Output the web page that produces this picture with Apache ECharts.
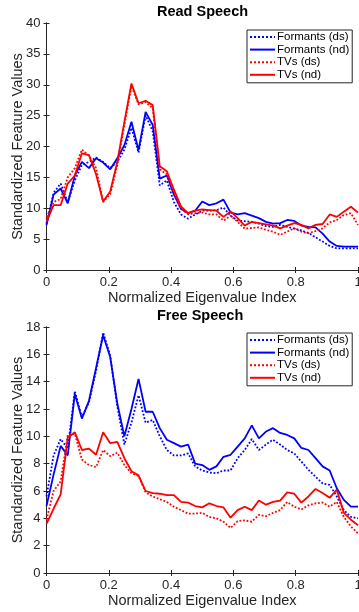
<!DOCTYPE html>
<html>
<head>
<meta charset="utf-8">
<script src="https://cdn.jsdelivr.net/npm/echarts@6/dist/echarts.min.js"></script>
<style>
  html, body { margin: 0; padding: 0; background: #fff; }
  #chart { width: 359px; height: 612px; }
</style>
</head>
<body>
<div id="chart"></div>
<script>
// normalized eigenvalue index, 45 eigenvalues
const nPoints = 45
const seriesNames = ['Formants (ds)', 'Formants (nd)', 'TVs (ds)', 'TVs (nd)']

// Read Speech
const readFormantsDs = [7.5, 12.5, 14, 11, 14.5, 17, 17.5, 18.2, 17.5, 16.5, 17.5, 19.5, 23, 19, 25, 22.5, 13.7, 14.5, 11, 9, 8.3, 9.0, 9.6, 9.6, 9.7, 10.1, 8.8, 8.0, 7.9, 7.8, 7.5, 7.1, 7.0, 7.3, 7.0, 6.7, 6.4, 6.0, 5.3, 4.6, 3.9, 3.5, 3.5, 3.5, 3.5]
const readFormantsNd = [7.3, 12.2, 13.2, 10.8, 15.3, 17.5, 16.5, 18.1, 17.4, 16.3, 18.1, 20.2, 24, 19.4, 25.6, 23.5, 14.8, 15.3, 12.2, 9.9, 9.2, 9.6, 11.1, 10.5, 10.8, 11.4, 9.3, 9.0, 9.2, 8.8, 8.4, 7.8, 7.5, 7.6, 8.1, 7.95, 7.2, 7.0, 6.9, 5.9, 4.6, 3.9, 3.8, 3.8, 3.8]
const readTVsDs = [8.5, 11, 11.5, 15, 16.5, 19.5, 18.5, 16.5, 11, 12.3, 17, 23.5, 29.8, 26.8, 27.2, 26.2, 16.3, 15.5, 12.5, 10, 9.0, 9.2, 9.3, 9.0, 9.0, 8.0, 8.8, 7.8, 6.7, 6.8, 6.9, 6.5, 6.2, 5.7, 6.2, 6.75, 6.2, 5.95, 6.3, 6.75, 7.7, 8.1, 8.9, 9.2, 7.3]
const readTVsNd = [7.8, 10.5, 10.5, 14, 15.3, 18.9, 18.6, 15.5, 11.1, 12.7, 17.5, 24, 30.2, 27, 27.4, 26.7, 16.8, 16, 13, 10.3, 9.2, 9.6, 9.8, 9.7, 9.6, 8.6, 9.5, 8.4, 7.2, 7.8, 7.6, 7.4, 7.2, 6.75, 7.2, 7.6, 7.3, 6.75, 7.3, 7.45, 9.0, 8.6, 9.45, 10.25, 9.3]

// Free Speech
const freeFormantsDs = [5.6, 8.6, 9.8, 9.1, 13.3, 11.4, 12.5, 14.8, 17.6, 15.9, 12.2, 9.4, 11.0, 13.0, 11.0, 11.2, 10.0, 9.0, 8.6, 8.6, 8.75, 7.8, 7.5, 7.35, 7.3, 7.5, 7.5, 8.4, 9.0, 9.8, 9.0, 9.4, 9.75, 9.4, 9.0, 8.75, 8.15, 7.55, 7.05, 6.55, 6.45, 5.6, 4.6, 4.1, 4.0]
const freeFormantsNd = [4.9, 7.2, 9.3, 8.6, 13.1, 11.3, 12.6, 15.0, 17.4, 15.8, 12.4, 10.0, 12.0, 14.2, 11.8, 11.8, 10.6, 9.75, 9.5, 9.25, 9.4, 8.0, 7.9, 7.55, 7.8, 8.5, 8.65, 9.25, 9.85, 10.8, 9.85, 10.35, 10.6, 10.25, 10.1, 9.85, 9.15, 9.0, 8.4, 7.8, 7.5, 6.2, 5.35, 4.85, 4.85]
const freeTVsDs = [3.9, 6.0, 6.7, 10.1, 10.2, 8.3, 7.9, 7.75, 9.0, 8.55, 8.8, 7.9, 7.3, 7.1, 5.9, 5.6, 5.4, 5.2, 4.85, 4.6, 4.35, 4.35, 4.4, 4.1, 4.0, 3.75, 3.3, 3.8, 3.85, 3.75, 4.25, 4.15, 4.4, 4.6, 5.2, 4.85, 4.65, 4.95, 5.1, 5.15, 4.85, 5.2, 4.1, 3.4, 2.9]
const freeTVsNd = [3.6, 4.7, 5.75, 9.9, 10.3, 9.0, 9.1, 8.65, 10.3, 9.5, 9.6, 8.4, 7.45, 7.15, 6.0, 5.85, 5.8, 5.7, 5.7, 5.2, 5.15, 4.9, 4.8, 5.1, 4.9, 4.8, 4.05, 4.6, 4.85, 4.6, 5.3, 5.0, 5.2, 5.3, 5.9, 5.8, 5.15, 5.6, 6.15, 5.85, 5.5, 6.1, 4.4, 3.9, 3.5]

const xIndex = Array.from({ length: nPoints }, (_, i) => i / (nPoints - 1))

const textColor = '#262626'
const fontFamily = 'Liberation Sans, Arial, sans-serif'

const pair = vals => vals.map((v, i) => [xIndex[i], v])

const makeSeries = (gridNo, vals) => {
  const axisNo = gridNo * 2
  const styles = [
    { color: '#0000ff', type: 'dotted' },
    { color: '#0000ff', type: 'solid' },
    { color: '#ff0000', type: 'dotted' },
    { color: '#ff0000', type: 'solid' }
  ]
  return vals.map((v, k) => ({
    name: seriesNames[k],
    type: 'line',
    xAxisIndex: axisNo,
    yAxisIndex: axisNo,
    data: pair(v),
    symbol: 'none',
    silent: true,
    color: styles[k].color,
    lineStyle: { width: 1.8, type: styles[k].type, color: styles[k].color }
  }))
}

const tickStyle = { show: true, inside: true, length: 3, lineStyle: { color: textColor } }
const lineStyle = { show: true, lineStyle: { color: textColor, width: 1 } }

const mainX = (gridIndex) => ({
  gridIndex, type: 'value', min: 0, max: 1, interval: 0.2, position: 'bottom',
  axisLine: lineStyle, axisTick: tickStyle,
  axisLabel: { color: textColor, fontSize: 13, fontFamily, margin: 6 },
  splitLine: { show: false },
  name: 'Normalized Eigenvalue Index', nameLocation: 'middle', nameGap: 20, nameMoveOverlap: false,
  nameTextStyle: { color: textColor, fontSize: 14.5, fontFamily }
})
const topX = (gridIndex) => ({
  gridIndex, type: 'value', min: 0, max: 1, interval: 0.2, position: 'top',
  axisLine: lineStyle, axisTick: tickStyle,
  axisLabel: { show: false }, splitLine: { show: false }
})
const mainY = (gridIndex, max, interval) => ({
  gridIndex, type: 'value', min: 0, max, interval, position: 'left',
  axisLine: lineStyle, axisTick: tickStyle,
  axisLabel: { color: textColor, fontSize: 13, fontFamily, margin: 6 },
  splitLine: { show: false },
  name: 'Standardized Feature Values', nameLocation: 'middle', nameGap: 21, nameMoveOverlap: false,
  nameTextStyle: { color: textColor, fontSize: 14.5, fontFamily }
})
const rightY = (gridIndex, max, interval) => ({
  gridIndex, type: 'value', min: 0, max, interval, position: 'right',
  axisLine: lineStyle, axisTick: tickStyle,
  axisLabel: { show: false }, splitLine: { show: false }
})

const makeLegend = top => ({
  orient: 'vertical', left: 247, top,
  data: seriesNames,
  itemWidth: 25, itemHeight: 12, itemGap: 0.6,
  padding: [1, 3, 2, 2],
  borderColor: textColor, borderWidth: 1, backgroundColor: '#fff',
  selectedMode: false,
  itemStyle: { opacity: 0 },
  textStyle: { color: '#000', fontSize: 11.5, fontFamily, padding: [0, 0, 0, -3] }
})

const chart = echarts.init(document.getElementById('chart'), null, { renderer: 'canvas' })
chart.setOption({
  animation: false,
  backgroundColor: '#fff',
  grid: [
    { left: 46.5, top: 23, width: 311.5, height: 247, outerBoundsMode: 'none' },
    { left: 46.5, top: 327, width: 311.5, height: 246, outerBoundsMode: 'none' }
  ],
  graphic: [
    { type: 'text', left: 202 - 45, top: 4, style: { text: 'Read Speech', font: 'bold 14.5px ' + fontFamily, fill: '#000' } },
    { type: 'text', left: 202 - 45, top: 308, style: { text: 'Free Speech', font: 'bold 14.5px ' + fontFamily, fill: '#000' } }
  ],
  legend: [makeLegend(30), makeLegend(333)],
  xAxis: [mainX(0), topX(0), mainX(1), topX(1)],
  yAxis: [mainY(0, 40, 5), rightY(0, 40, 5), mainY(1, 18, 2), rightY(1, 18, 2)],
  series: [
    ...makeSeries(0, [readFormantsDs, readFormantsNd, readTVsDs, readTVsNd]),
    ...makeSeries(1, [freeFormantsDs, freeFormantsNd, freeTVsDs, freeTVsNd])
  ]
})
</script>
</body>
</html>
